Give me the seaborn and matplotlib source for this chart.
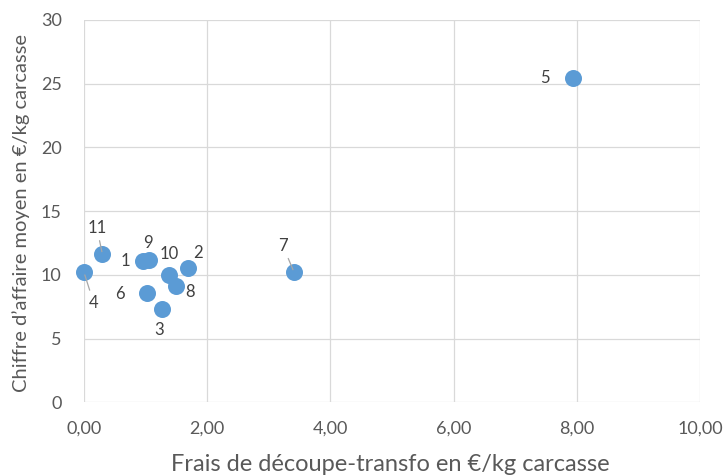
import matplotlib
matplotlib.use("Agg")
import matplotlib.pyplot as plt
import seaborn as sns
import pandas as pd

labels = ["1", "2", "3", "4", "5", "6", "7", "8", "9", "10", "11"]
frais = [0.95, 1.69, 1.26, 0.00, 7.94, 1.02, 3.41, 1.50, 1.06, 1.38, 0.30]
ca = [11.1, 10.5, 7.3, 10.2, 25.45, 8.6, 10.2, 9.1, 11.2, 10.0, 11.6]

# label offsets in points (dx, dy), and whether a leader line is drawn
offsets = {
    "1": (-12, 0), "2": (7, 11), "3": (-2, -15), "4": (7, -22), "5": (-20, 0),
    "6": (-19, -1), "7": (-8, 19), "8": (10, -4), "9": (-1, 12), "10": (0, 15),
    "11": (-4, 19),
}
leaders = {"4", "7", "11"}

df = pd.DataFrame({"label": labels, "x": frais, "y": ca})

sns.set_theme(style="white")
plt.rcParams['font.family'] = ['Lato', 'DejaVu Sans']

fig = plt.figure(figsize=(7.27, 4.76), dpi=100)
ax = fig.add_axes([0.1155, 0.155, 0.8475, 0.803])

sns.scatterplot(data=df, x="x", y="y", ax=ax, s=150, color="#5B9BD5",
                edgecolor="#5B9BD5", linewidth=0, zorder=3, clip_on=False)

for lab, x, y in zip(labels, frais, ca):
    dx, dy = offsets[lab]
    kw = dict(xytext=(dx, dy), textcoords="offset points", ha="center",
              va="center", fontsize=12, color="#404040", zorder=4,
              annotation_clip=False)
    if lab in leaders:
        kw["arrowprops"] = dict(arrowstyle="-", color="#A6A6A6", lw=0.9,
                                shrinkA=1, shrinkB=2)
    ax.annotate(lab, (x, y), **kw)

ax.set_xlim(0, 10)
ax.set_ylim(0, 30)
ax.set_xticks([0, 2, 4, 6, 8, 10])
ax.set_xticklabels(["0,00", "2,00", "4,00", "6,00", "8,00", "10,00"])
ax.set_yticks([0, 5, 10, 15, 20, 25, 30])
ax.grid(True, color="#D9D9D9", linewidth=0.9)
ax.set_axisbelow(True)
for s in ax.spines.values():
    s.set_visible(False)
ax.tick_params(axis="both", labelsize=13, colors="#595959", length=0)
ax.tick_params(axis="x", pad=13)
ax.tick_params(axis="y", pad=16)
ax.set_xlabel("Frais de découpe-transfo en €/kg carcasse", fontsize=17,
              color="#595959", va="baseline", ha="center")
ax.xaxis.set_label_coords(0.4968, -0.1806)
ax.set_ylabel("Chiffre d’affaire moyen en €/kg carcasse", fontsize=14.5,
              color="#595959", va="center", ha="center")
ax.yaxis.set_label_coords(-0.1023, 0.4948)

fig.savefig("out.png", dpi=100)
